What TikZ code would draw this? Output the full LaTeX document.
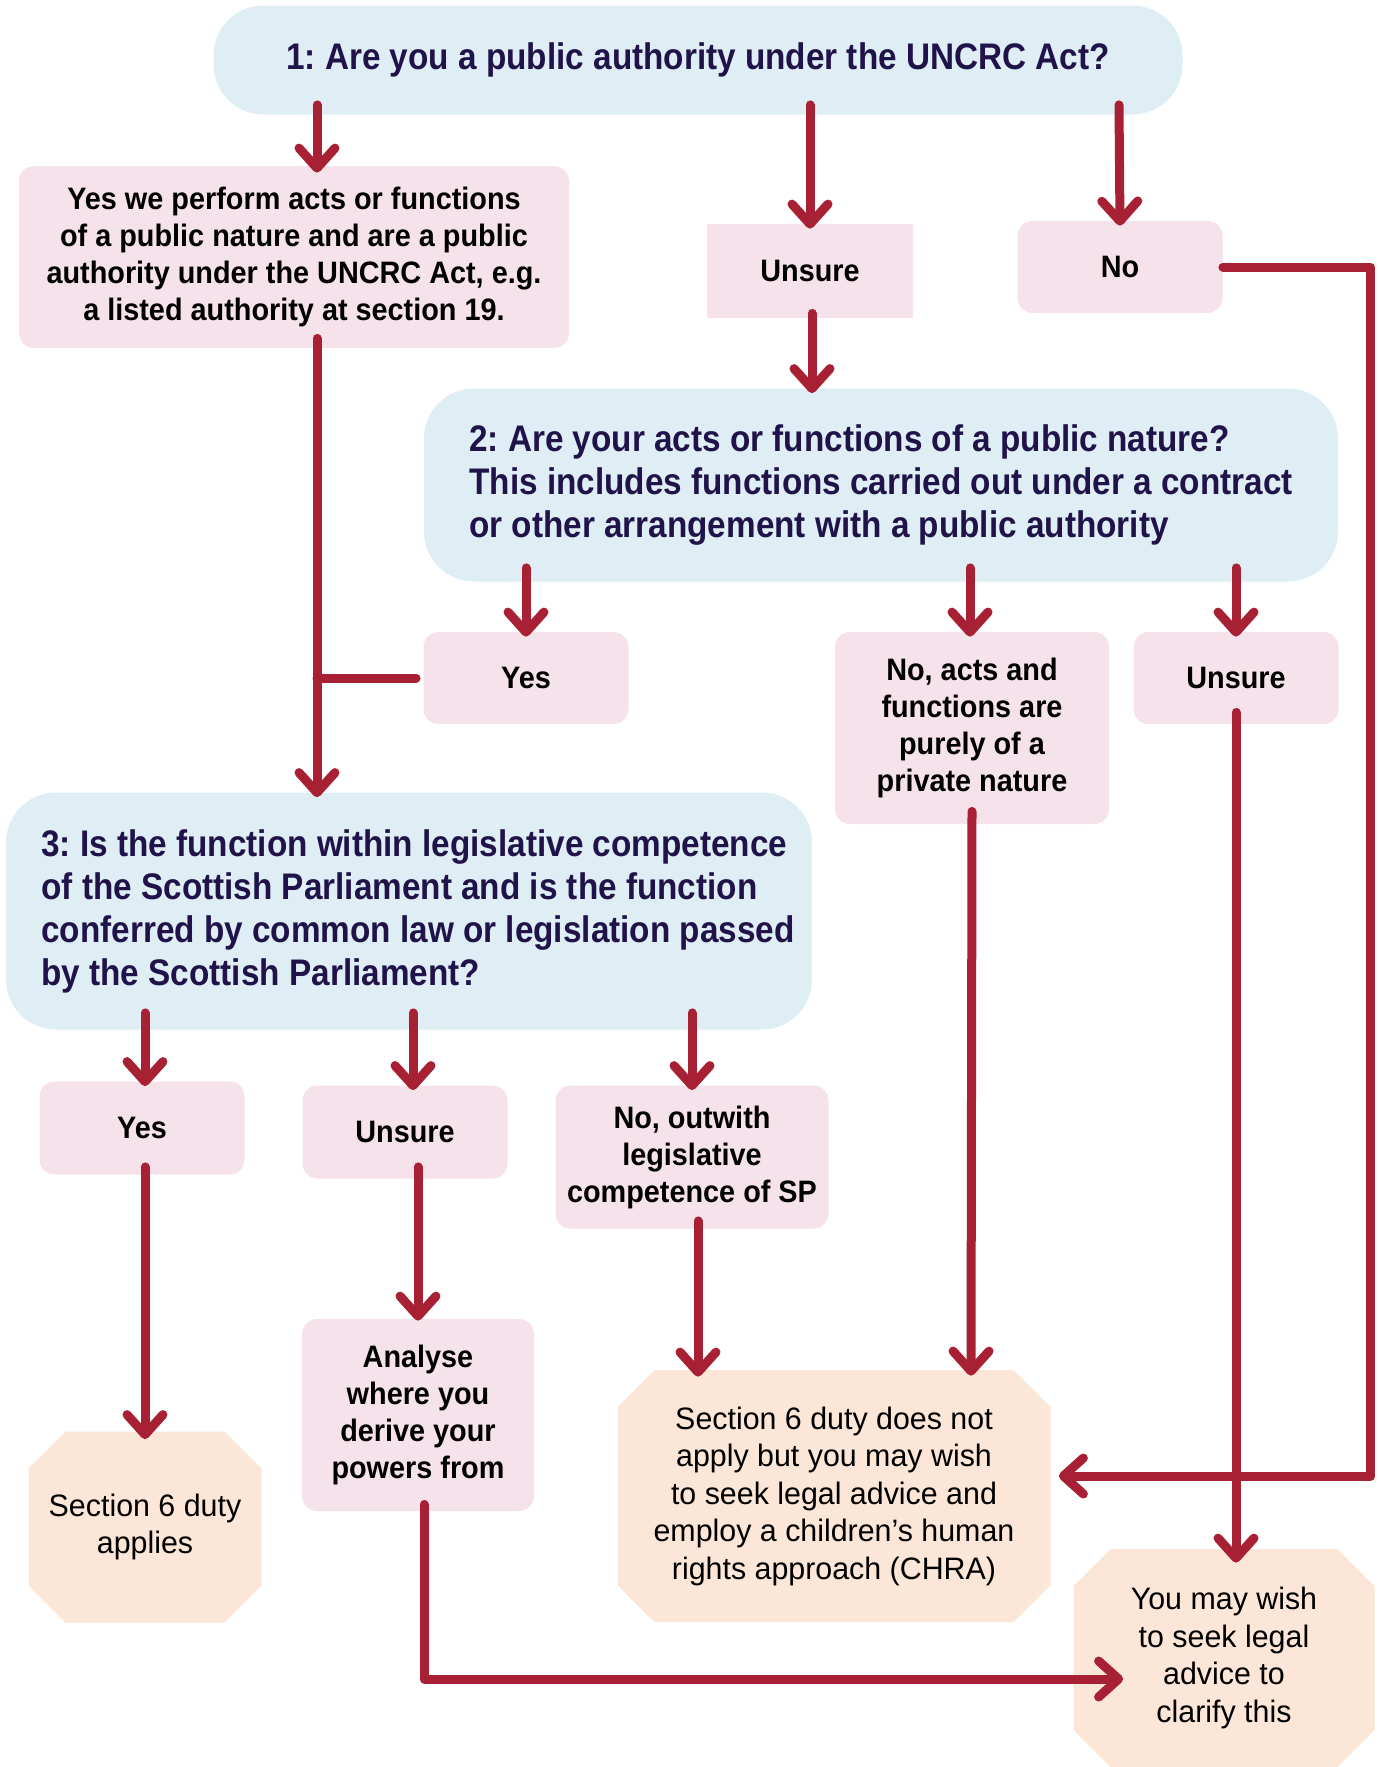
\documentclass[tikz,border=0pt]{standalone}
\usepackage{fontspec}
\setmainfont{Liberation Sans}
\newfontfamily\askfont[FakeStretch=0.9]{Liberation Sans}
\newfontfamily\replyfont[FakeStretch=0.93]{Liberation Sans}
\newfontfamily\resfont[FakeStretch=0.98]{Liberation Sans}
\usetikzlibrary{positioning,arrows.meta}
\frenchspacing

\definecolor{askblue}{HTML}{DFEDF4}
\definecolor{answerpink}{HTML}{F6E2EA}
\definecolor{resultpeach}{HTML}{FCE6D8}
\definecolor{flowred}{HTML}{A82033}
\definecolor{asknavy}{HTML}{20134A}

\tikzset{
  question/.style={fill=askblue, rounded corners=25pt, inner sep=0pt, align=left,
    text=asknavy, font=\askfont\bfseries\fontsize{18.5}{21.5}\selectfont},
  answer/.style={fill=answerpink, rounded corners=7.5pt, inner sep=0pt, align=center,
    text=black, font=\replyfont\bfseries\fontsize{15.5}{18.5}\selectfont},
  outcome/.style={rectangle, fill=white, inner sep=0pt, align=center,
    text=black, font=\resfont\fontsize{15.5}{18.75}\selectfont,
    path picture={
      \fill[resultpeach] ([yshift=18.5pt]path picture bounding box.south west)
        -- ([xshift=18.5pt]path picture bounding box.south west)
        -- ([xshift=-18.5pt]path picture bounding box.south east)
        -- ([yshift=18.5pt]path picture bounding box.south east)
        -- ([yshift=-18.5pt]path picture bounding box.north east)
        -- ([xshift=-18.5pt]path picture bounding box.north east)
        -- ([xshift=18.5pt]path picture bounding box.north west)
        -- ([yshift=-18.5pt]path picture bounding box.north west) -- cycle;}},
  link/.style={draw=flowred, line width=4.5pt, line cap=round, line join=round},
  flow/.style={link, -{Straight Barb[round, length=10pt, width=18pt]}}
}

\begin{document}
\begin{tikzpicture}[x=0.5pt,y=-0.5pt]
\useasboundingbox (0,0) rectangle (1379,1767);

% first question and its answers
\node[question, minimum width=484.5pt, minimum height=54.5pt] (q1) at (698,60)
  {1: Are you a public authority under the UNCRC Act?};
\node[answer, minimum width=275pt, minimum height=91pt] (a1) at (294,257)
  {Yes we perform acts or functions\\of a public nature and are a public\\authority under the UNCRC Act, e.g.\\a listed authority at section 19.};
\node[answer, rounded corners=0pt, minimum width=103pt, minimum height=47pt] (unsure1) at (810,271) {Unsure};
\node[answer, minimum width=102.5pt, minimum height=46pt] (no1) at (1120,267) {No};

% second question
\node[question, minimum width=457pt, minimum height=96.5pt] (q2) at (881,485)
  {2: Are your acts or functions of a public nature?\\This includes functions carried out under a contract\\or other arrangement with a public authority};
\node[answer, minimum width=102.5pt, minimum height=46pt] (yes2) at (526,678) {Yes};
\node[answer, minimum width=137pt, minimum height=96pt] (no2) at (972,728)
  {No, acts and\\functions are\\purely of a\\private nature};
\node[answer, minimum width=102.5pt, minimum height=46pt] (unsure2) at (1236,678) {Unsure};

% third question
\node[question, minimum width=403pt, minimum height=118.5pt] (q3) at (409,911)
  {3: Is the function within legislative competence\kern-9pt\\of the Scottish Parliament and is the function\kern-9pt\\conferred by common law or legislation passed\kern-9pt\\by the Scottish Parliament?};
\node[answer, minimum width=102.5pt, minimum height=46.5pt] (yes3) at (142,1128) {Yes};
\node[answer, minimum width=102.5pt, minimum height=46.5pt] (unsure3) at (405,1132) {Unsure};
\node[answer, minimum width=136.5pt, minimum height=71.5pt] (no3) at (692,1157)
  {No, outwith\\legislative\\competence of SP};

% outcomes
\node[outcome, minimum width=116.5pt, minimum height=95.5pt] (applies) at (145,1527)
  {Section 6 duty\\applies};
\node[answer, minimum width=116pt, minimum height=96pt] (analyse) at (418,1415)
  {Analyse\\where you\\derive your\\powers from};
\node[outcome, minimum width=216.5pt, minimum height=126pt] (notapply) at (834,1496)
  {Section 6 duty does not\\apply but you may wish\\to seek legal advice and\\employ a children’s human\\rights approach (CHRA)};
\node[outcome, minimum width=150.5pt, minimum height=109pt] (legal) at (1224,1658)
  {You may wish\\to seek legal\\advice to\\clarify this};

\coordinate (join) at (317,678);

% connectors
\draw[flow] ([xshift=-190.5pt,yshift=5pt]q1.south) -- ([xshift=11.5pt,yshift=-3.5pt]a1.north);
\draw[flow] ([xshift=56pt,yshift=5pt]q1.south) -- ([yshift=-2.5pt]unsure1.north);
\draw[flow] ([xshift=210.5pt,yshift=5pt]q1.south) -- ([yshift=-2.5pt]no1.north);
\draw[flow] ([xshift=1pt,yshift=2.5pt]unsure1.south) -- ([xshift=-34.5pt,yshift=-2.5pt]q2.north);
\draw[flow] ([xshift=11.5pt,yshift=5pt]a1.south) -- ([xshift=-46pt,yshift=-2.5pt]q3.north);
\draw[link] ([xshift=-3.5pt]yes2.west) -- (join);

\draw[flow] ([xshift=-177.5pt,yshift=7pt]q2.south) -- ([yshift=-2.5pt]yes2.north);
\draw[flow] ([xshift=44.5pt,yshift=7pt]q2.south) -- ([xshift=-1pt,yshift=-2.5pt]no2.north);
\draw[flow] ([xshift=177.5pt,yshift=7pt]q2.south) -- ([yshift=-2.5pt]unsure2.north);

\draw[flow] ([xshift=-132pt,yshift=8.5pt]q3.south) -- ([xshift=1.5pt,yshift=-2.5pt]yes3.north);
\draw[flow] ([xshift=2pt,yshift=8.5pt]q3.south) -- ([xshift=4pt,yshift=-2.5pt]unsure3.north);
\draw[flow] ([xshift=141.5pt,yshift=8.5pt]q3.south) -- ([yshift=-2.5pt]no3.north);

\draw[flow] ([xshift=1.5pt,yshift=4pt]yes3.south) -- ([yshift=-4pt]applies.north);
\draw[flow] ([xshift=6.5pt,yshift=6pt]unsure3.south) -- ([yshift=-1pt]analyse.north);
\draw[flow] ([xshift=3pt,yshift=4pt]no3.south) -- ([xshift=-68pt,yshift=-3.5pt]notapply.north);
\draw[flow] ([yshift=6.5pt]no2.south) -- ([xshift=68.5pt,yshift=-3pt]notapply.north);
\draw[flow] (no1.east) -| ([xshift=160pt,yshift=10pt]notapply.east) -- ([xshift=4pt,yshift=10pt]notapply.east);
\draw[flow] ([yshift=6pt]unsure2.south) -- ([xshift=6pt,yshift=-7pt]legal.north);
\draw[flow] ([xshift=3pt,yshift=3.5pt]analyse.south) |- ([xshift=25pt,yshift=-10.5pt]legal.west);

\end{tikzpicture}
\end{document}
